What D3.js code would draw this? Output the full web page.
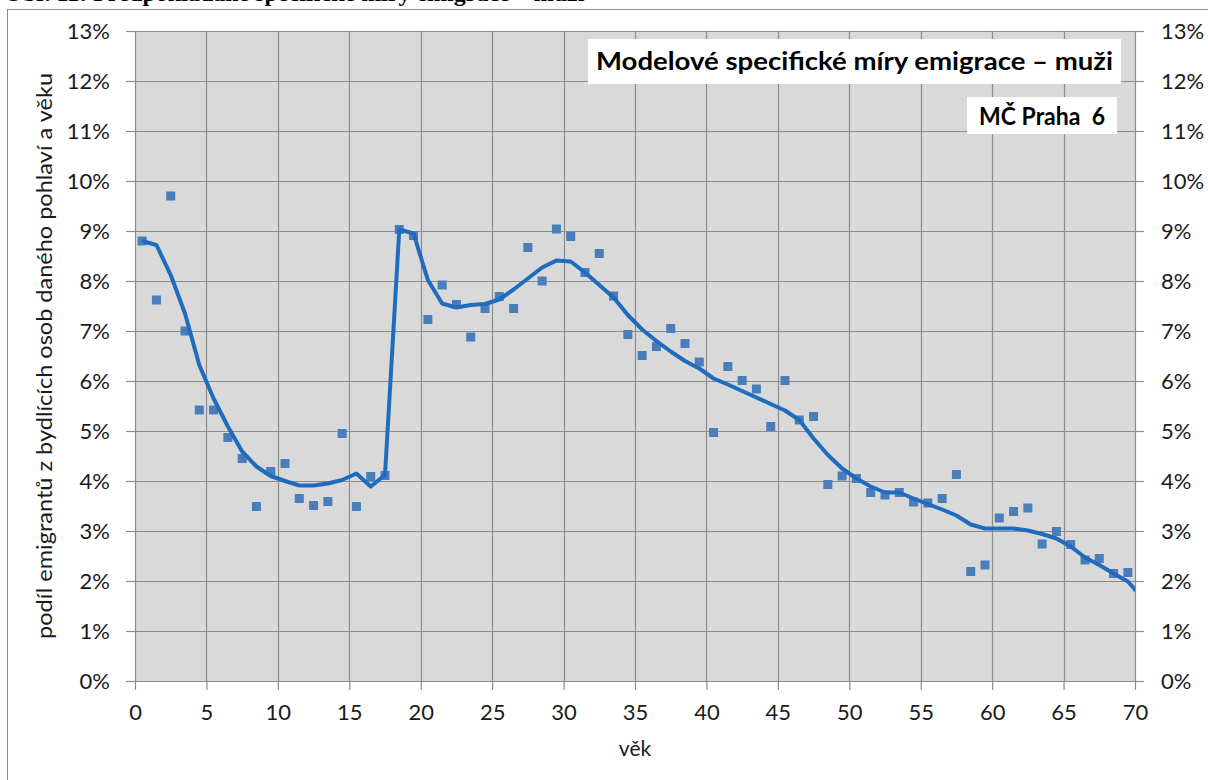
<!DOCTYPE html>
<html>
<head>
<meta charset="utf-8">
<script src="https://cdn.jsdelivr.net/npm/d3@7"></script>
<style>
  body { margin: 0; background: #fff; }
  svg { display: block; }
  text { font-family: Lato, "Noto Sans", sans-serif; fill: #1a1a1a; }
</style>
</head>
<body>
<div id="chart"></div>
<script>
// ages (midpoints of one-year age groups)
const ages = d3.range(0, 70).map(a => a + 0.5);
const lineAges = d3.range(0, 71).map(a => a + 0.5);

// observed rates (%) – points
const observed = [
  8.80, 7.62, 9.70, 7.00, 5.42, 5.42, 4.87, 4.45, 3.49, 4.19,
  4.35, 3.65, 3.51, 3.59, 4.95, 3.49, 4.09, 4.11, 9.03, 8.91,
  7.23, 7.92, 7.53, 6.88, 7.45, 7.69, 7.45, 8.67, 8.00, 9.04,
  8.89, 8.17, 8.55, 7.70, 6.93, 6.51, 6.69, 7.05, 6.75, 6.38,
  4.97, 6.29, 6.01, 5.84, 5.09, 6.01, 5.22, 5.29, 3.93, 4.10,
  4.05, 3.77, 3.72, 3.77, 3.58, 3.56, 3.65, 4.13, 2.19, 2.32,
  3.26, 3.39, 3.46, 2.74, 2.99, 2.73, 2.42, 2.45, 2.15, 2.17
];

// model rates (%) – line
const model = [
  8.80, 8.72, 8.12, 7.35, 6.32, 5.65, 5.09, 4.59, 4.29, 4.10,
  4.00, 3.91, 3.91, 3.95, 4.02, 4.15, 3.89, 4.12, 9.03, 8.95,
  8.02, 7.55, 7.47, 7.52, 7.54, 7.63, 7.83, 8.05, 8.27, 8.41,
  8.39, 8.17, 7.92, 7.67, 7.32, 7.03, 6.80, 6.59, 6.40, 6.25,
  6.05, 5.93, 5.80, 5.67, 5.54, 5.41, 5.22, 4.85, 4.52, 4.25,
  4.05, 3.89, 3.77, 3.77, 3.65, 3.54, 3.43, 3.31, 3.13, 3.05,
  3.05, 3.05, 3.01, 2.94, 2.85, 2.69, 2.47, 2.32, 2.15, 1.99,
  1.67
];

const xTicks = d3.range(0, 71, 5);
const yTicks = d3.range(0, 14).map(v => v / 100);

const chartTitle = 'Modelové specifické míry emigrace – muži';
const areaLabel = 'MČ Praha  6';
const yTitle = 'podíl emigrantů z bydlících osob daného pohlaví a věku';
const xTitle = 'věk';
const caption = 'Obr. 11: Předpokládané specifické míry emigrace – muži';

const W = 1208, H = 780;
const plot = { left: 135, right: 1135, top: 31, bottom: 681 };

const svg = d3.select('#chart').append('svg')
    .attr('width', W)
    .attr('height', H);

// caption, cut off at the top of the page as in the source
svg.append('text')
    .attr('x', 4)
    .attr('y', 1)
    .style('font-family', '"Liberation Serif", serif')
    .style('font-weight', 'bold')
    .style('font-size', '24px')
    .style('fill', '#000')
    .text(caption);

// outer chart frame
svg.append('rect')
    .attr('x', 7.5)
    .attr('y', 9.5)
    .attr('width', 1400)
    .attr('height', 1000)
    .attr('fill', '#fff')
    .attr('stroke', '#8c8c8c');

const x = d3.scaleLinear().domain([0, 70]).range([plot.left, plot.right]);
const y = d3.scaleLinear().domain([0, 0.13]).range([plot.bottom, plot.top]);

svg.append('rect')
    .attr('x', plot.left)
    .attr('y', plot.top)
    .attr('width', plot.right - plot.left)
    .attr('height', plot.bottom - plot.top)
    .attr('fill', '#d9d9d9');

// gridlines
svg.append('g').selectAll('line').data(yTicks).join('line')
    .attr('x1', plot.left).attr('x2', plot.right)
    .attr('y1', d => Math.round(y(d)) + 0.5).attr('y2', d => Math.round(y(d)) + 0.5)
    .attr('stroke', '#8c8c8c').attr('stroke-width', 1.2);

svg.append('g').selectAll('line').data(xTicks).join('line')
    .attr('x1', d => Math.round(x(d)) + 0.5).attr('x2', d => Math.round(x(d)) + 0.5)
    .attr('y1', plot.top).attr('y2', plot.bottom)
    .attr('stroke', '#8c8c8c').attr('stroke-width', 1.2);

// axes
const pct = d3.format('.0%');

const leftAxis = svg.append('g')
    .attr('transform', `translate(${plot.left},0)`)
    .call(d3.axisLeft(y).tickValues(yTicks).tickFormat(pct).tickSize(9).tickSizeOuter(0).tickPadding(16));

const rightAxis = svg.append('g')
    .attr('transform', `translate(${plot.right},0)`)
    .call(d3.axisRight(y).tickValues(yTicks).tickFormat(pct).tickSize(9).tickSizeOuter(0).tickPadding(17));

const bottomAxis = svg.append('g')
    .attr('transform', `translate(0,${plot.bottom})`)
    .call(d3.axisBottom(x).tickValues(xTicks).tickFormat(d3.format('d')).tickSize(9).tickSizeOuter(0).tickPadding(14));

[leftAxis, rightAxis, bottomAxis].forEach(g => {
    g.select('.domain').attr('stroke', '#8c8c8c');
    g.selectAll('.tick line').attr('stroke', '#8c8c8c').attr('stroke-width', 1.2);
    g.selectAll('.tick text')
        .style('font-family', 'Lato, "Noto Sans", sans-serif')
        .style('font-size', '22px')
        .style('fill', '#1a1a1a');
});

// axis titles
svg.append('text')
    .attr('transform', `translate(52,356) rotate(-90)`)
    .attr('text-anchor', 'middle')
    .attr('textLength', 566)
    .attr('lengthAdjust', 'spacingAndGlyphs')
    .style('font-size', '22px')
    .text(yTitle);

svg.append('text')
    .attr('x', (plot.left + plot.right) / 2)
    .attr('y', 756)
    .attr('text-anchor', 'middle')
    .style('font-size', '21px')
    .text(xTitle);

// model line, clipped to plot area
svg.append('clipPath').attr('id', 'plotClip')
    .append('rect')
    .attr('x', plot.left).attr('y', plot.top)
    .attr('width', plot.right - plot.left).attr('height', plot.bottom - plot.top);

const line = d3.line()
    .x((d, i) => x(lineAges[i]))
    .y(d => y(d / 100));

// observed points
svg.append('g').selectAll('rect').data(observed).join('rect')
    .attr('x', (d, i) => x(ages[i]) - 4.5)
    .attr('y', d => y(d / 100) - 4.5)
    .attr('width', 9)
    .attr('height', 9)
    .attr('fill', '#4a7ebb');

svg.append('path')
    .datum(model)
    .attr('clip-path', 'url(#plotClip)')
    .attr('d', line)
    .attr('fill', 'none')
    .attr('stroke', '#1f6cbf')
    .attr('stroke-width', 4)
    .attr('stroke-linejoin', 'round');

// title box
svg.append('rect')
    .attr('x', 588).attr('y', 39)
    .attr('width', 533).attr('height', 45)
    .attr('fill', '#fff');
svg.append('text')
    .attr('x', 596).attr('y', 70)
    .attr('textLength', 517)
    .attr('lengthAdjust', 'spacingAndGlyphs')
    .style('font-weight', 'bold')
    .style('font-size', '25px')
    .style('fill', '#000')
    .text(chartTitle);

// area label box
svg.append('rect')
    .attr('x', 967).attr('y', 97)
    .attr('width', 150).attr('height', 37)
    .attr('fill', '#fff');
svg.append('text')
    .attr('x', 979).attr('y', 125)
    .attr('textLength', 126)
    .attr('lengthAdjust', 'spacingAndGlyphs')
    .style('font-weight', 'bold')
    .style('font-size', '24px')
    .style('fill', '#000')
    .style('white-space', 'pre')
    .text(areaLabel);
</script>
</body>
</html>
